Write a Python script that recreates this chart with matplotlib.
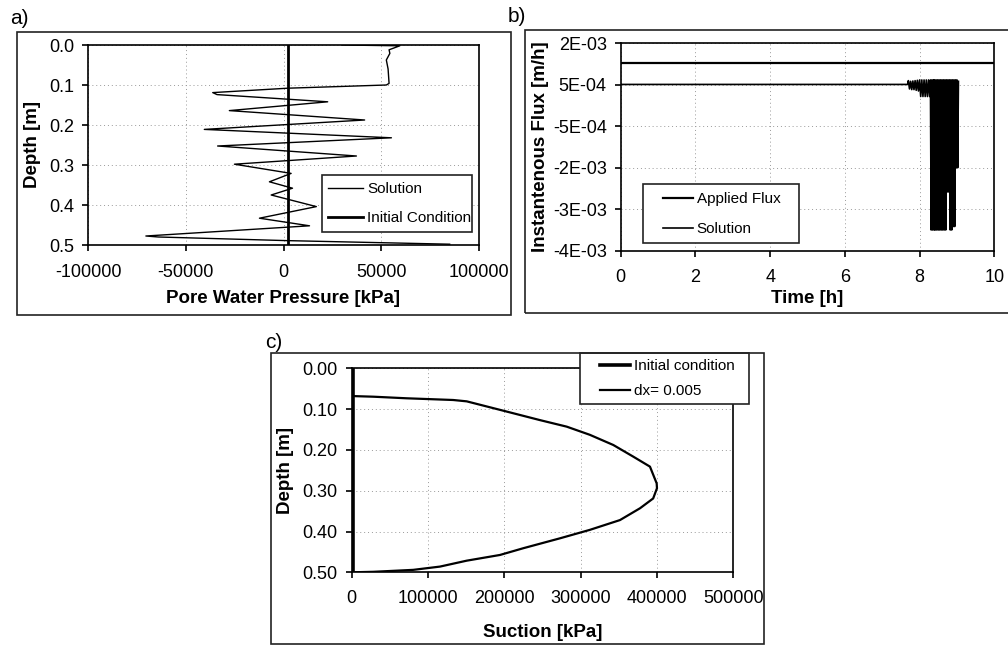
import numpy as np
import matplotlib.pyplot as plt
from matplotlib.patches import Rectangle

plt.rcParams['font.family'] = ['Liberation Sans', 'DejaVu Sans']
plt.rcParams['font.size'] = 12
plt.rcParams['axes.unicode_minus'] = False

# a) pore water pressure profile
depth_a = [0.0, 0.002, 0.012, 0.021, 0.0375, 0.06, 0.096, 0.100, 0.108, 0.119, 0.124,
           0.142, 0.164, 0.1875, 0.211, 0.232, 0.2525, 0.2775, 0.298, 0.321, 0.342,
           0.358, 0.375, 0.404, 0.433, 0.452, 0.4775, 0.480, 0.489, 0.498]
press_a = [30000, 59500, 54000, 54400, 52600, 53500, 54000, 52600, 2200, -36200, -34000,
           22600, -27700, 41500, -40500, 55200, -33700, 37300, -25100, 3900, -7200,
           4600, -6300, 16800, -12300, 13300, -70400, -64000, 1400, 85000]
depth_init_a = [0.0, 0.5]
press_init_a = [2500, 2500]

# b) instantaneous flux
t_applied = [0, 10]
q_applied = [0.00144, 0.00144]
t_sol = [0, 7.68, 7.70, 7.73, 7.76, 7.79, 7.82, 7.85, 7.88, 7.91, 7.94, 7.97, 8.00,
         8.03, 8.06, 8.09, 8.12, 8.15, 8.18, 8.21, 8.24, 8.27, 8.29, 8.31, 8.33,
         8.35, 8.37, 8.39, 8.40, 8.42, 8.44, 8.46, 8.48, 8.50, 8.52, 8.54, 8.56,
         8.58, 8.60, 8.62, 8.64, 8.66, 8.68, 8.70, 8.72, 8.74, 8.76, 8.78, 8.80,
         8.82, 8.84, 8.86, 8.88, 8.90, 8.92, 8.94, 8.96, 8.98, 9.00, 9.02, 9.04]
q_sol = [0.00081, 0.00081, 0.00092, 0.00068, 0.00090, 0.00066, 0.00091, 0.00066, 0.00092,
         0.00064, 0.00093, 0.00062, 0.00094, 0.00046, 0.00094, 0.00046, 0.00094, 0.00046,
         0.00094, 0.00046, 0.00094, 0.00046, 0.00094, -0.0034, 0.00094, -0.0034, 0.00094,
         -0.0034, 0.00094, -0.0034, 0.00094, -0.0034, 0.00094, -0.0034, 0.00094, -0.0034,
         0.00094, -0.0034, 0.00094, -0.0034, 0.00094, -0.0034, 0.00094, -0.0034, 0.00094,
         -0.0023, 0.00094, -0.0023, 0.00094, -0.0034, 0.00094, -0.0034, 0.00094, -0.0033,
         0.00094, -0.0033, 0.00094, -0.0016, 0.00094, -0.0016, 0.00090]
flux_ticks = ['-4E-03', '-3E-03', '-2E-03', '-5E-04', '5E-04', '2E-03']

# c) suction profile
depth_c = [0.0, 0.068, 0.0696, 0.0735, 0.0777, 0.081, 0.106, 0.127, 0.143, 0.163, 0.188,
           0.2166, 0.241, 0.282, 0.294, 0.319, 0.343, 0.372, 0.396, 0.4167, 0.441,
           0.4575, 0.4715, 0.486, 0.494, 0.4988, 0.5]
suction_c = [0, 0, 28300, 72000, 133000, 150700, 203000, 246700, 281700, 312000, 342800,
             369000, 390800, 399600, 400000, 395000, 377800, 351500, 312000, 272900,
             224800, 194300, 150700, 115700, 80700, 28300, 0]
depth_init_c = [0.0, 0.5]
suction_init_c = [2000, 2000]

W, H = 1008, 649
fig = plt.figure(figsize=(W / 100, H / 100), dpi=100)


def px_axes(x0, y0, x1, y1):
    return fig.add_axes([x0 / W, 1 - y1 / H, (x1 - x0) / W, (y1 - y0) / H])


def px_box(x0, y0, x1, y1, ax=None, z=1):
    r = Rectangle((x0 / W, 1 - y1 / H), (x1 - x0) / W, (y1 - y0) / H,
                  transform=fig.transFigure, facecolor='white' if ax else 'none',
                  edgecolor='#222222', linewidth=1.2, zorder=z, clip_on=False)
    if ax is None:
        fig.patches.append(r)
    else:
        ax.add_patch(r)


def style(ax, xpad=7):
    ax.grid(True, linestyle=(0, (1, 3)), color='#999999', linewidth=0.7)
    ax.set_axisbelow(True)
    for s in ax.spines.values():
        s.set_linewidth(1.2)
    ax.tick_params(direction='out', length=4, width=1.2, labelsize=13)
    ax.tick_params(axis='x', pad=xpad)
    ax.tick_params(axis='y', pad=6)


def px_legend(ax, box, x, y, hl, sp):
    px_box(*box, ax=ax, z=4.5)
    leg = ax.legend(loc='upper left', bbox_to_anchor=(x / W, 1 - y / H),
                    bbox_transform=fig.transFigure, frameon=False, fontsize=11,
                    handlelength=hl, handletextpad=0.25, borderpad=0,
                    borderaxespad=0, labelspacing=sp)
    leg.set_zorder(5)
    return leg


px_box(17, 32, 511, 315)
px_box(525, 30, 1012, 313)
px_box(271, 353, 764, 644)

fig.text(10 / W, 1 - 24 / H, 'a)', fontsize=15)
fig.text(508 / W, 1 - 22 / H, 'b)', fontsize=15)
fig.text(265 / W, 1 - 348 / H, 'c)', fontsize=15)

# a)
ax = px_axes(88, 45, 479, 245)
ax.plot(press_a, depth_a, color='black', linewidth=1.0, label='Solution')
ax.plot(press_init_a, depth_init_a, color='black', linewidth=2.0, label='Initial Condition')
ax.set_xlim(-100000, 100000)
ax.set_ylim(0.5, 0.0)
ax.set_xticks([-100000, -50000, 0, 50000, 100000])
ax.set_yticks([0.0, 0.1, 0.2, 0.3, 0.4, 0.5])
ax.set_yticklabels(['0.0', '0.1', '0.2', '0.3', '0.4', '0.5'])
ax.set_xlabel('Pore Water Pressure [kPa]', fontweight='bold', fontsize=13.5, labelpad=6)
ax.set_ylabel('Depth [m]', fontweight='bold', fontsize=13.5, labelpad=6)
style(ax, xpad=10)
px_legend(ax, (322, 175, 472, 232), 328, 182, 2.3, 1.0)

# b)
ax = px_axes(620.7, 43.3, 994.3, 250.7)
ax.plot(t_applied, q_applied, color='black', linewidth=1.6, label='Applied Flux')
ax.plot(t_sol, q_sol, color='black', linewidth=1.2, label='Solution')
ax.set_xlim(0, 10)
ax.set_ylim(-0.004, 0.002)
ax.set_xticks([0, 2, 4, 6, 8, 10])
ax.set_yticks(np.linspace(-0.004, 0.002, 6))
ax.set_yticklabels(flux_ticks)
ax.set_xlabel('Time [h]', fontweight='bold', fontsize=13.5, labelpad=3)
ax.set_ylabel('Instantenous Flux [m/h]', fontweight='bold', fontsize=13.5, labelpad=3)
style(ax, xpad=9)
px_legend(ax, (643, 184, 799, 243), 663, 192, 1.96, 1.07)

# c)
ax = px_axes(351.7, 368.3, 733.3, 572.3)
ax.plot(suction_init_c, depth_init_c, color='black', linewidth=2.6, label='Initial condition')
ax.plot(suction_c, depth_c, color='black', linewidth=1.6, label='dx= 0.005')
ax.set_xlim(0, 500000)
ax.set_ylim(0.5, 0.0)
ax.set_xticks([0, 100000, 200000, 300000, 400000, 500000])
ax.set_yticks([0.0, 0.1, 0.2, 0.3, 0.4, 0.5])
ax.set_yticklabels(['0.00', '0.10', '0.20', '0.30', '0.40', '0.50'])
ax.set_xlabel('Suction [kPa]', fontweight='bold', fontsize=13.5, labelpad=12)
ax.set_ylabel('Depth [m]', fontweight='bold', fontsize=13.5, labelpad=6)
style(ax, xpad=9)
px_legend(ax, (580, 353, 749, 404), 600, 359, 1.96, 0.75)

fig.savefig('out.png', dpi=100)
